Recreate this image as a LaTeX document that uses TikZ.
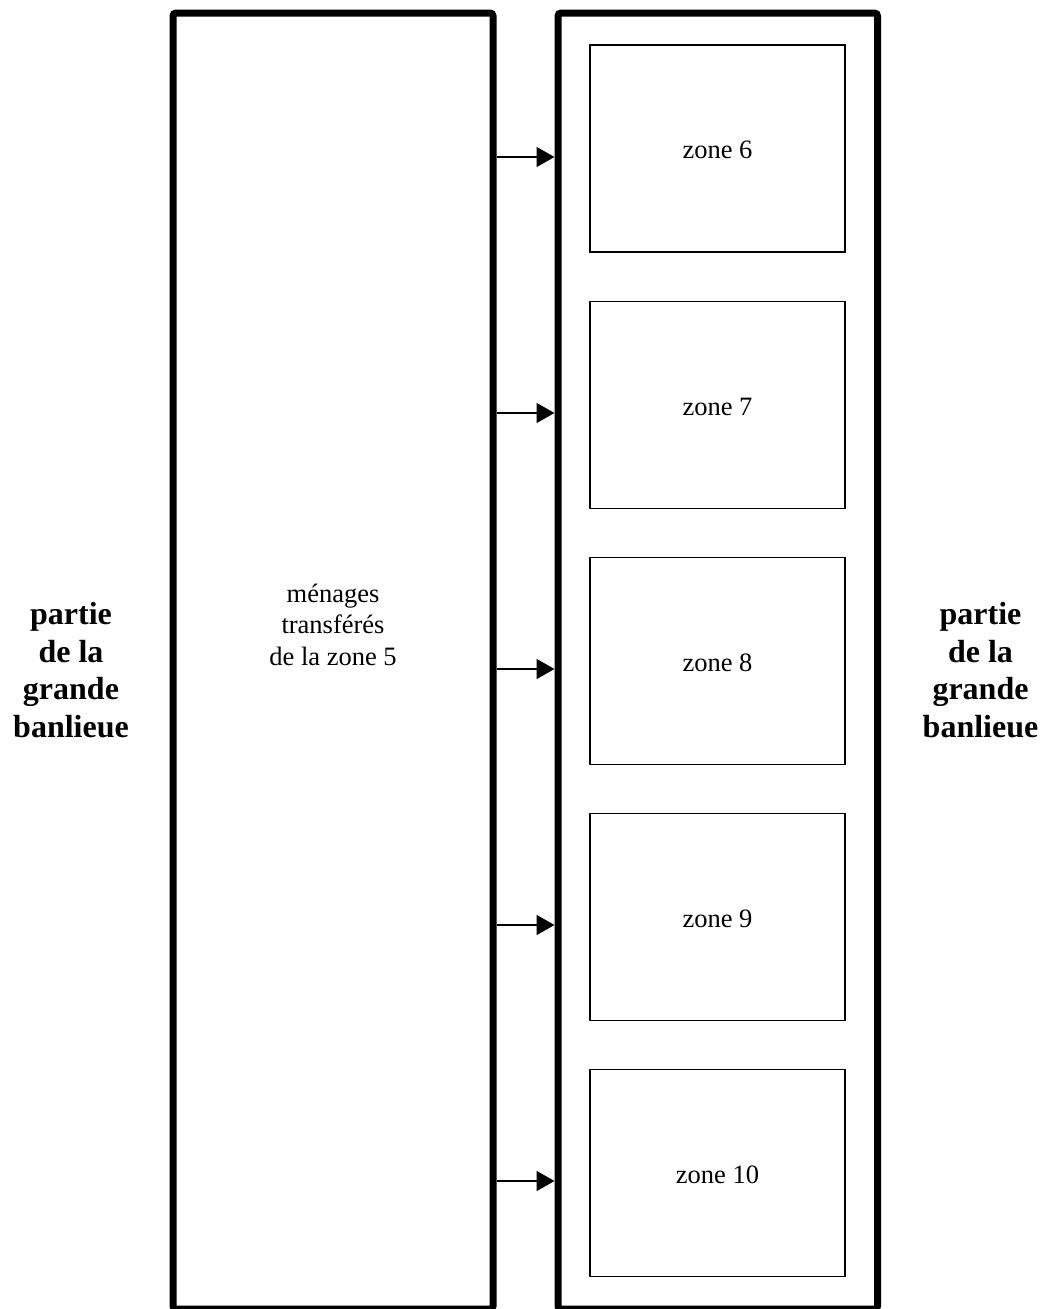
\documentclass[tikz,border=0pt]{standalone}
\usepackage{fontspec}
\setmainfont{Liberation Serif}
\usetikzlibrary{arrows.meta}
\begin{document}
\begin{tikzpicture}[x=1pt,y=-1pt,
  bigbox/.style={draw, line width=7pt, rounded corners=3pt, inner sep=0pt, outer sep=3.5pt, minimum height=1296pt},
  zonebox/.style={draw, line width=1.5pt, inner sep=0pt, outer sep=0pt, minimum width=255pt, minimum height=207pt},
  zlabel/.style={anchor=base, inner sep=0pt, font=\fontsize{26.5}{31.5}\selectfont},
  sidelabel/.style={align=center, anchor=base, inner sep=0pt, font=\bfseries\fontsize{32}{37.5}\selectfont},
  arr/.style={line width=1.5pt, -{Triangle[length=18pt,width=20pt]}}]
\useasboundingbox (0,0) rectangle (1045,1309);
\node[bigbox, minimum width=320pt] (L) at (333,661) {};
\node[bigbox, minimum width=319.5pt] (R) at (717.75,661) {};
\node[align=center, anchor=base, inner sep=0pt, font=\fontsize{26.5}{31.5}\selectfont] (T) at (333,665) {ménages\\transférés\\de la zone 5};
\node[zonebox] (Z6) at (717.5,148.5) {};
\node[zonebox] (Z7) at (717.5,405) {};
\node[zonebox] (Z8) at (717.5,661) {};
\node[zonebox] (Z9) at (717.5,917) {};
\node[zonebox] (Z10) at (717.5,1173) {};
\node[zlabel] (T6) at ([yshift=-10pt]Z6.center) {zone 6};
\node[zlabel] (T7) at ([yshift=-10pt]Z7.center) {zone 7};
\node[zlabel] (T8) at ([yshift=-10pt]Z8.center) {zone 8};
\node[zlabel] (T9) at ([yshift=-10pt]Z9.center) {zone 9};
\node[zlabel] (T10) at ([yshift=-10pt]Z10.center) {zone 10};
\foreach \yy in {157,413,669,925,1181}
  \draw[arr] (L.east |- 0,\yy) -- (R.west |- 0,\yy);
\node[sidelabel] (SL) at (71,737) {partie\\de la\\grande\\banlieue};
\node[sidelabel] (SR) at (980.5,737) {partie\\de la\\grande\\banlieue};
\end{tikzpicture}
\end{document}
